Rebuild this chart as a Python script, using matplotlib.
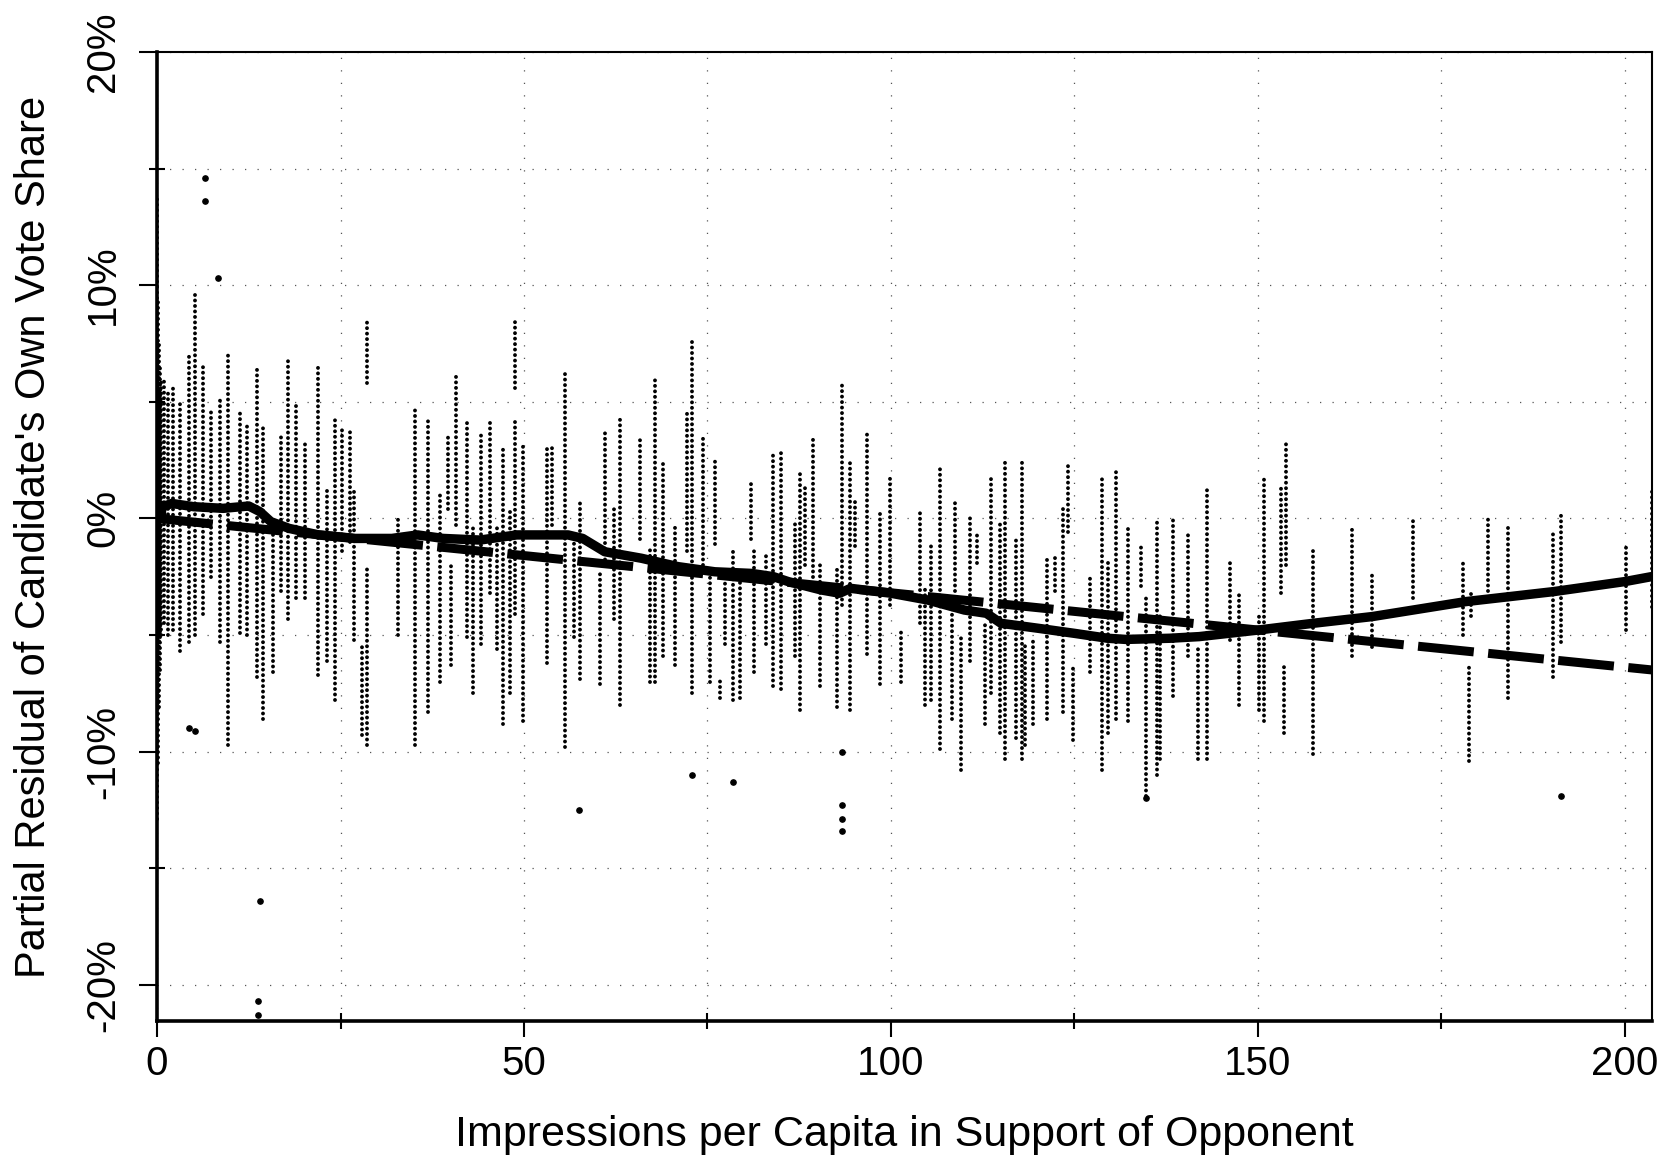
import matplotlib
matplotlib.use("Agg")
import matplotlib.pyplot as plt

plt.rcParams["font.family"] = ["Liberation Sans", "DejaVu Sans"]

# vertical strips of residuals (x, top, bottom), in %
strip_x = [0.0, 0.15, 0.3, 0.45, 0.6, 1.0, 1.5,
           2.2, 3.1, 4.3, 5.2, 6.3, 7.4, 8.6, 9.7, 11.3, 12.2, 13.6, 14.5, 15.8,
           16.9, 17.9, 19.0, 20.2, 22.0, 23.1, 24.2, 25.2, 26.3, 26.9, 27.9,
           28.6, 28.6, 32.9,
           35.1, 36.9, 38.5, 39.7, 40.1, 40.8, 42.2, 43.1, 44.2, 45.4, 46.3,
           47.2, 48.1, 48.8, 48.8, 49.9, 53.1, 53.8, 55.6, 56.8, 57.6, 60.4,
           61.1, 62.2, 63.1, 65.8, 67.2,
           67.8, 69.0, 70.6, 72.2, 72.9, 74.4, 75.3, 76.0, 76.7, 77.4, 78.5,
           79.4, 80.9, 81.4, 83.0, 83.9, 85.0, 86.9, 87.6, 88.3, 89.4, 90.3,
           92.6, 93.4, 94.4, 95.1, 96.7, 98.5, 99.9,
           101.4, 103.9, 104.6, 105.5, 106.7, 108.3, 108.7, 109.6, 110.8,
           111.7, 112.8, 113.7, 114.9, 115.5, 117.1, 117.8, 118.3, 119.4,
           121.2, 122.3, 123.5, 124.1, 124.8, 127.1, 128.7, 129.6, 130.7,
           132.3, 134.1, 134.8, 136.2,
           136.6, 138.5, 140.5, 141.9, 143.0, 146.2, 147.4, 150.2, 150.9,
           153.2, 153.6, 153.8, 157.5, 162.8, 165.5,
           171.1, 178.0, 178.7, 179.1, 181.4, 184.1, 190.2, 191.3, 200.1, 203.7]
strip_hi = [13.8, 9.5, 7.5, 6.5, 6.0, 6.0, 5.5,
            5.6, 5.1, 7.1, 9.6, 6.7, 4.7, 5.1, 7.1, 4.6, 4.1, 6.5, 4.1, -0.3,
            3.5, 6.9, 5.0, 3.4, 6.5, 1.2, 4.3, 3.9, 3.9, 1.2, -5.3,
            8.6, -2.0, 0.0,
            4.7, 4.3, 1.0, 3.5, -1.9, 6.1, 4.1, -0.3, 3.7, 4.3, -0.2,
            3.1, 0.5, 8.6, 4.2, 3.1, 3.1, 3.1, 6.2, -0.7, 0.8, -2.4,
            3.8, 0.5, 4.4, 3.4, -1.2,
            6.1, 2.5, -0.3, 4.7, 7.6, 3.6, -2.5, 2.5, -6.9, -2.7, -1.4,
            -2.7, 1.7, -1.4, -1.4, 2.7, 2.9, -0.2, 1.9, 1.4, 3.4, -1.8,
            -2.0, 5.8, 2.4, 0.7, 3.6, 0.2, 1.8,
            -4.8, 0.3, -3.0, -1.1, 2.1, -3.4, 0.7, -5.1, 0.2,
            -0.6, -4.4, 1.9, -0.2, 2.5, -0.8, 2.5, -5.4, -5.1,
            -1.7, -1.7, 0.6, 2.3, -6.4, -2.5, 1.8, -1.7, 2.2,
            -0.3, -1.2, -3.4, -0.1,
            -4.1, 0.0, -0.6, -5.4, 1.4, -1.9, -3.1, -4.1, 1.8,
            1.4, -6.2, 3.3, -1.4, -0.4, -2.3,
            0.1, -1.9, -6.3, -3.2, 0.0, -0.2, -0.5, 0.3, -1.1, 1.3]
strip_lo = [-12.9, -10.5, -8.1, -6.5, -5.0, -4.5, -5.0,
            -4.8, -5.7, -5.3, -5.0, -4.1, -2.5, -5.3, -9.7, -4.9, -5.0, -6.8, -8.6, -6.6,
            -3.1, -4.3, -3.4, -3.4, -6.7, -6.1, -7.8, -1.4, -1.0, -5.2, -9.3,
            5.8, -9.7, -5.0,
            -9.7, -8.3, -7.0, 0.4, -6.3, -0.3, -5.1, -7.5, -5.4, -3.2, -5.6,
            -8.8, -7.5, 5.6, -4.1, -8.7, -6.2, -0.3, -9.8, -5.1, -6.9, -7.1,
            -2.0, -4.3, -8.0, -0.9, -7.0,
            -7.0, -5.9, -6.3, -1.4, -7.5, -2.0, -7.0, -1.1, -7.7, -5.4, -7.8,
            -7.7, -0.9, -6.6, -5.4, -7.2, -7.3, -5.9, -8.2, -2.0, -2.5, -7.2,
            -8.1, -3.7, -8.2, -1.2, -5.8, -7.1, -3.7,
            -7.0, -4.5, -8.0, -7.8, -9.9, -8.6, -3.1, -10.8, -6.1,
            -1.9, -8.8, -7.5, -9.2, -10.3, -9.4, -10.3, -9.7, -8.8,
            -8.6, -3.1, -8.3, -0.6, -9.5, -6.6, -10.8, -9.2, -8.6,
            -8.7, -2.9, -11.9, -11.0,
            -10.3, -7.6, -5.9, -10.3, -10.3, -5.2, -8.0, -8.2, -8.7,
            -3.2, -9.2, -2.0, -10.1, -5.9, -5.5,
            -3.4, -5.0, -10.4, -4.2, -3.1, -7.7, -6.8, -5.3, -4.8, -3.8]

# solid band of overlapping points on the x = 0 edge
edge_x = [0.0, 0.3]
edge_hi = [7.5, 5.5]
edge_lo = [-8.0, -5.0]

# isolated points away from the strips
out_x = [6.5, 6.5, 8.3, 4.3, 5.2, 14.0, 13.8, 13.8, 57.5, 72.9, 78.5,
         93.4, 93.4, 93.4, 93.4, 134.8, 191.3]
out_y = [14.6, 13.6, 10.3, -9.0, -9.1, -16.4, -20.7, -21.3, -12.5, -11.0, -11.3,
         -10.0, -12.3, -12.9, -13.4, -12.0, -11.9]

# smooth fit (solid)
fit_x = [0, 2, 5, 9, 12.5, 14, 15.5, 18, 22, 27, 32, 35.5, 39, 44, 49, 56, 58,
         61, 66, 71, 76, 81, 84, 86, 90.5, 93, 94.5, 100, 105, 110, 113, 115,
         120, 125, 129.5, 132, 138, 142, 150, 157.5, 165.6, 178.3, 190.3, 200,
         203.6]
fit_y = [0.4, 0.64, 0.5, 0.43, 0.53, 0.29, -0.14, -0.43, -0.71, -0.86, -0.86,
         -0.71, -0.86, -0.93, -0.71, -0.71, -0.86, -1.43, -1.71, -2.07, -2.29,
         -2.36, -2.5, -2.71, -3.07, -3.21, -3.0, -3.21, -3.5, -3.93, -4.07,
         -4.5, -4.71, -4.93, -5.14, -5.19, -5.14, -5.07, -4.79, -4.5, -4.21,
         -3.57, -3.14, -2.71, -2.5]

# linear fit (dashed)
lin_x = [0, 203.7]
lin_y = [0.0, -6.5]

xticks = [0, 50, 100, 150, 200]
yticks = [-20, -10, 0, 10, 20]
ytick_labels = ["-20%", "-10%", "0%", "10%", "20%"]

fig = plt.figure(figsize=(16.67, 11.59), dpi=100)
ax = fig.add_axes([0.0942, 0.1191, 0.8968, 0.8361])

pts = ax.vlines(strip_x, strip_lo, strip_hi, colors="black", linewidth=2.8,
                linestyles=(0, (0.01, 1.4)), zorder=2)
pts.set_capstyle("round")
ax.vlines(edge_x, edge_lo, edge_hi, colors="black", linewidth=3.0, zorder=2)
ax.plot(out_x, out_y, "o", color="black", markersize=3.8, zorder=2)

ax.plot(lin_x, lin_y, color="black", linewidth=6.5, linestyle=(0, (6.2, 1.6)),
        dash_capstyle="butt", zorder=3)
ax.plot(fit_x, fit_y, color="black", linewidth=6.8, solid_capstyle="round",
        solid_joinstyle="round", zorder=4)
ax.plot(fit_x[0], fit_y[0], "s", color="black", markersize=12, zorder=4)

ax.set_xlim(0, 203.7)
ax.set_ylim(-21.55, 20)

ax.set_xticks(xticks)
ax.set_xticks([25, 75, 125, 175], minor=True)
ax.set_yticks(yticks)
ax.set_yticklabels(ytick_labels, rotation=90, va="center")
ax.set_yticks([-15, -5, 5, 15], minor=True)

ax.grid(True, which="both", color="#555555", linestyle=(0, (1, 9)), linewidth=0.9)
ax.set_axisbelow(True)

ax.tick_params(axis="x", which="major", direction="out", length=11.5, width=1.5,
               labelsize=29, pad=6)
ax.tick_params(axis="x", which="minor", direction="inout", length=11.5, width=1.5)
ax.tick_params(axis="y", which="major", direction="out", length=13, width=1.5,
               labelsize=29, pad=12)
ax.tick_params(axis="y", which="minor", direction="inout", length=12, width=1.5)

for side in ["left", "bottom"]:
    ax.spines[side].set_linewidth(2.6)
for side in ["top", "right"]:
    ax.spines[side].set_linewidth(1.5)

ax.set_xlabel("Impressions per Capita in Support of Opponent", fontsize=31)
ax.xaxis.set_label_coords(0.5, -0.1176)
ax.xaxis.label.set_va("center")
ax.set_ylabel("Partial Residual of Candidate's Own Vote Share", fontsize=30)
ax.yaxis.set_label_coords(-0.0823, 0.5)
ax.yaxis.label.set_va("center")

fig.savefig("out.png", dpi=100)
